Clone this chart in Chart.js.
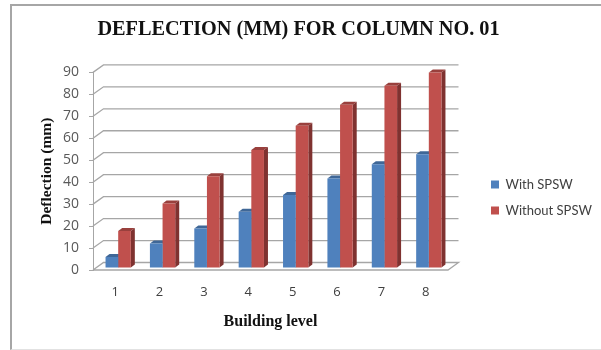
<!DOCTYPE html>
<html>
<head>
<meta charset="utf-8">
<title>Deflection for column no. 01</title>
<script src="https://cdn.jsdelivr.net/npm/chart.js@4"></script>
<style>
  html, body { margin: 0; padding: 0; background: #fff; }
  #wrap { position: relative; width: 601px; height: 350px; overflow: hidden; }
  #frame { position: absolute; left: 10px; top: 4px; width: 600px; height: 346px; box-sizing: border-box;
           border-left: 2px solid #a6a6a6; border-top: 2px solid #a6a6a6; border-bottom: 1px solid #e2e2e2; }
  canvas { position: absolute; left: 0; top: 0; }
</style>
</head>
<body>
<div id="wrap">
  <div id="frame"></div>
  <canvas id="myChart" width="601" height="350"></canvas>
</div>
<script>
'use strict';
var levels = ['1', '2', '3', '4', '5', '6', '7', '8'];
var withSpsw = [5, 11.1, 18, 25.6, 33.2, 40.8, 47.3, 51.8];
var withoutSpsw = [16.9, 29.4, 41.8, 53.7, 64.8, 74.3, 83, 89];
var seriesNames = ['With SPSW', 'Without SPSW'];
var chartTitle = 'DEFLECTION (MM) FOR COLUMN NO. 01';
var xTitle = 'Building level';
var yTitle = 'Deflection (mm)';

var wallX = 10.5, wallY = -7.5;   // how far the back wall sits behind the front plane
var barX = 3, barY = -2;          // bars stand slightly inside the floor
var depthX = 4, depthY = -3;      // depth of each bar
var legendDrop = 23;              // legend sits a bit below the middle of its column
var sideColors = ['#385d8a', '#7f3230'];
var topColors = ['#3f6797', '#99403d'];

function poly(ctx, pts, color) {
  ctx.fillStyle = color;
  ctx.beginPath();
  ctx.moveTo(pts[0][0], pts[0][1]);
  for (var i = 1; i < pts.length; i++) {
    ctx.lineTo(pts[i][0], pts[i][1]);
  }
  ctx.closePath();
  ctx.fill();
}

// back wall, floor and the 3d faces of the bars
var box3d = {
  id: 'box3d',
  afterLayout: function(chart) {
    chart.legend.top += legendDrop;
    chart.legend.bottom += legendDrop;
  },
  beforeDatasetsDraw: function(chart) {
    var ctx = chart.ctx;
    var area = chart.chartArea;
    var y = chart.scales.y;
    ctx.save();
    ctx.strokeStyle = '#a6a6a6';
    ctx.lineWidth = 1.3;
    y.ticks.forEach(function(t) {
      var py = y.getPixelForValue(t.value);
      ctx.beginPath();
      ctx.moveTo(area.left, py);
      ctx.lineTo(area.left + wallX, py + wallY);
      ctx.lineTo(area.right + wallX, py + wallY);
      if (t.value === 0) {
        ctx.lineTo(area.right, py);
        ctx.lineTo(area.left, py);
      }
      ctx.stroke();
    });
    ctx.restore();

    ctx.save();
    ctx.translate(barX, barY);
    chart.data.datasets.forEach(function(ds, d) {
      chart.getDatasetMeta(d).data.forEach(function(bar) {
        var l = bar.x - bar.width / 2, r = bar.x + bar.width / 2;
        poly(ctx, [[l, bar.y], [l + depthX, bar.y + depthY], [r + depthX, bar.y + depthY], [r, bar.y]], topColors[d]);
        poly(ctx, [[r, bar.y], [r + depthX, bar.y + depthY], [r + depthX, bar.base + depthY], [r, bar.base]], sideColors[d]);
      });
    });
    ctx.restore();

    // front faces get the same shift, restored in afterDatasetsDraw
    ctx.save();
    ctx.translate(barX, barY);
  },
  afterDatasetsDraw: function(chart) {
    chart.ctx.restore();
  }
};

new Chart(document.getElementById('myChart'), {
  type: 'bar',
  data: {
    labels: levels,
    datasets: [
      { label: seriesNames[0], data: withSpsw, backgroundColor: '#4f81bd' },
      { label: seriesNames[1], data: withoutSpsw, backgroundColor: '#c0504d' }
    ]
  },
  options: {
    responsive: false,
    animation: false,
    layout: { padding: { left: 0, right: 4, top: 18, bottom: 19 } },
    datasets: { bar: { categoryPercentage: 0.57, barPercentage: 1 } },
    plugins: {
      title: {
        display: true,
        text: chartTitle,
        color: '#111',
        font: { family: '"Liberation Serif"', size: 20.3, weight: 'bold' },
        padding: { top: 0, bottom: 30 }
      },
      legend: {
        position: 'right',
        maxWidth: 119,
        labels: {
          boxWidth: 8,
          boxHeight: 8,
          padding: 13,
          color: '#404040',
          font: { family: 'Lato', size: 13 }
        }
      },
      tooltip: { enabled: false }
    },
    scales: {
      x: {
        afterFit: function(scale) { scale.height = 61; },
        grid: { display: false },
        border: { display: false },
        ticks: { color: '#404040', padding: 6, font: { family: 'Open Sans', size: 13 } },
        title: {
          display: true,
          text: xTitle,
          color: '#111',
          padding: { top: 1, bottom: 0 },
          font: { family: '"Liberation Serif"', size: 16, weight: 'bold' }
        }
      },
      y: {
        min: 0,
        max: 90,
        afterFit: function(scale) { scale.width = 93; },
        ticks: { stepSize: 10, color: '#595959', padding: 10, font: { family: 'Open Sans', size: 14 } },
        grid: { drawOnChartArea: false, color: '#a6a6a6', tickLength: 4 },
        border: { color: '#a6a6a6' },
        title: {
          display: true,
          text: yTitle,
          color: '#111',
          padding: { top: 38, bottom: 0 },
          font: { family: '"Liberation Serif"', size: 15.5, weight: 'bold' }
        }
      },
      // empty axis, keeps the gap between the plot and the legend
      spacer: {
        axis: 'y',
        position: 'right',
        afterFit: function(scale) { scale.width = 30; },
        ticks: { display: false },
        grid: { display: false },
        border: { display: false }
      }
    }
  },
  plugins: [box3d]
});
</script>
</body>
</html>
